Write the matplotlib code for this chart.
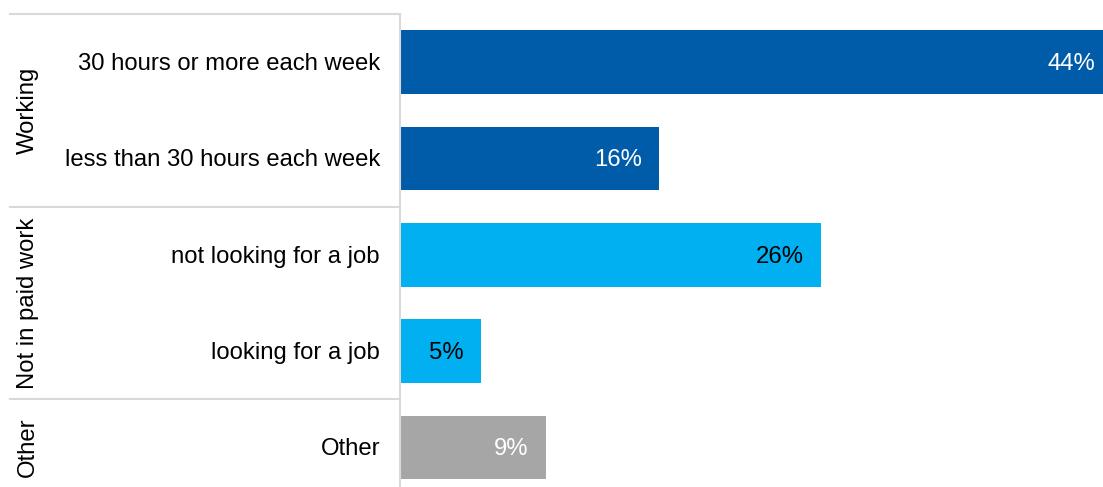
import matplotlib
matplotlib.use("Agg")
import matplotlib.pyplot as plt

plt.rcParams['font.family'] = ['Liberation Sans', 'DejaVu Sans']

categories = ["30 hours or more each week", "less than 30 hours each week",
              "not looking for a job", "looking for a job", "Other"]
values = [44, 16, 26, 5, 9]
groups = ["Working", "Working", "Not in paid work", "Not in paid work", "Other"]
bar_colors = ["#005CA9", "#005CA9", "#00B0F0", "#00B0F0", "#A6A6A6"]
label_colors = ["white", "white", "black", "black", "white"]

W, H = 1103, 487
FS = 17.2
fig = plt.figure(figsize=(W / 100, H / 100), dpi=100)

# axes box in pixel terms
left_px, top_px, right_px, bottom_px = 400, 14, 1103, 495.5
ax = fig.add_axes([left_px / W, (H - bottom_px) / H,
                   (right_px - left_px) / W, (bottom_px - top_px) / H])

n = len(categories)
ypos = list(range(n))
ax.barh(ypos, values, height=0.66, color=bar_colors, zorder=2)
ax.set_ylim(n - 0.5, -0.5)
ax.set_xlim(0, 703 / 16.2)

for y, v, c in zip(ypos, values, label_colors):
    ax.annotate(f"{v}%", xy=(v, y), xytext=(-12.7, -1.4), textcoords="offset points",
                ha="right", va="center", color=c, fontsize=FS,
                annotation_clip=False)

ax.set_xticks([])
ax.set_yticks([])
for s in ["top", "right", "bottom"]:
    ax.spines[s].set_visible(False)
ax.spines["left"].set_color("#D9D9D9")
ax.spines["left"].set_linewidth(1.5)

# category labels to the left of the axis
for y, cat in zip(ypos, categories):
    ax.annotate(cat, xy=(0, y), xytext=(-14.4, -1.4), textcoords="offset points",
                ha="right", va="center", fontsize=FS, color="black",
                annotation_clip=False)

# group separators and rotated group labels
trans = ax.get_yaxis_transform()
x_ax0 = (10 - left_px) / (right_px - left_px)
bounds = []
start = 0
for i in range(1, n + 1):
    if i == n or groups[i] != groups[start]:
        bounds.append((start, i - 1, groups[start]))
        start = i
for (a, b, name) in bounds:
    top = a - 0.5
    ax.plot([x_ax0, 0], [top, top], transform=trans, color="#D9D9D9",
            lw=1.5, clip_on=False, zorder=1)
    mid = (a + b) / 2
    ax.text((28 - left_px) / (right_px - left_px), mid, name, transform=trans,
            rotation=90, ha="center", va="center", fontsize=FS,
            color="black", clip_on=False)

fig.savefig("out.png", dpi=100)
